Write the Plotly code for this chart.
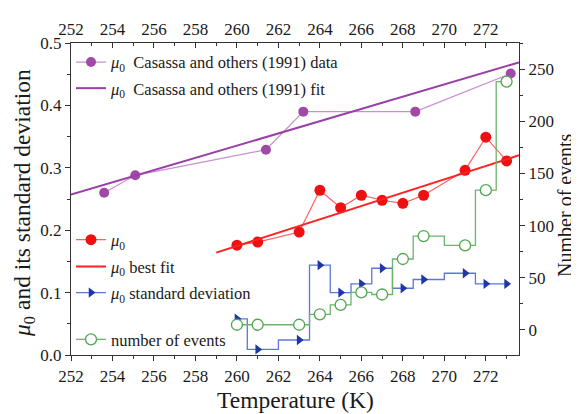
import plotly.graph_objects as go

# Casassa and others (1991) data
cas_T = [253.6, 255.1, 261.4, 263.2, 268.6, 273.2]
cas_mu = [0.260, 0.288, 0.329, 0.390, 0.390, 0.451]
# Casassa fit line endpoints
cas_fit_T = [252.0, 273.6]
cas_fit_mu = [0.257, 0.469]

# mu0 data
T = [260, 261, 263, 264, 265, 266, 267, 268, 269, 271, 272, 273]
mu0 = [0.176, 0.181, 0.197, 0.264, 0.236, 0.256, 0.248, 0.243, 0.256, 0.296, 0.349, 0.311]
# best fit endpoints
fit_T = [259.0, 273.6]
fit_mu = [0.164, 0.320]
# standard deviation
mu_sd = [0.058, 0.009, 0.024, 0.144, 0.100, 0.114, 0.139, 0.107, 0.121, 0.131, 0.114, 0.114]
# number of events
n_events = [5, 5, 5, 15, 24, 36, 34, 68, 90, 81, 134, 238]

x_ticks = list(range(252, 274, 2))

FONT = "Liberation Serif, Times New Roman, serif"
AX = "#333333"
TXT = "#1a1a1a"

# page has an 8px body margin: figure is drawn offset by OFF
OFF = 8
PAGE_W, PAGE_H = 579, 414
W, H = PAGE_W - OFF, PAGE_H - OFF
# desired plot area in page pixels
L, R, Tp, B = 71, 519, 37, 355
def py_paper(py):
    return (B - py) / (B - Tp)
def px_paper(px):
    return (px - L) / (R - L)

fig = go.Figure()

fig.add_trace(go.Scatter(
    x=cas_T, y=cas_mu, mode="lines+markers",
    line=dict(color="#c98fd0", width=1.3),
    marker=dict(color="#a04aa8", size=10, symbol="circle"),
    name="<i>μ</i><sub>0</sub>  Casassa and others (1991) data", legend="legend"))
fig.add_trace(go.Scatter(
    x=cas_fit_T, y=cas_fit_mu, mode="lines",
    line=dict(color="#9a3fa8", width=2),
    name="<i>μ</i><sub>0</sub>  Casassa and others (1991) fit", legend="legend2"))
fig.add_trace(go.Scatter(
    x=T, y=mu0, mode="lines+markers",
    line=dict(color="#ff6060", width=1.2),
    marker=dict(color="#ee1111", size=11, symbol="circle"),
    name="<i>μ</i><sub>0</sub>", legend="legend3"))
fig.add_trace(go.Scatter(
    x=fit_T, y=fit_mu, mode="lines",
    line=dict(color="#ff2222", width=2),
    name="<i>μ</i><sub>0</sub> best fit", legend="legend4"))
fig.add_trace(go.Scatter(
    x=T, y=mu_sd, mode="lines+markers", line_shape="hvh",
    line=dict(color="#5b78d6", width=1.3),
    marker=dict(color="#1f35a8", size=9, symbol="triangle-right"),
    name="<i>μ</i><sub>0</sub> standard deviation", legend="legend5"))
fig.add_trace(go.Scatter(
    x=T, y=n_events, mode="lines+markers", line_shape="hvh", yaxis="y2",
    line=dict(color="#6cb46c", width=1.3),
    marker=dict(color="white", size=11, symbol="circle",
                line=dict(color="#4fa64f", width=1.3)),
    name="number of events", legend="legend6"))
# invisible trace to anchor the top axis
fig.add_trace(go.Scatter(x=[252], y=[0], xaxis="x2", mode="markers",
                         marker=dict(opacity=0), showlegend=False, hoverinfo="skip"))

tick_font = dict(family=FONT, size=17, color=TXT)
common = dict(showline=True, linecolor=AX, linewidth=1.3, showgrid=False,
              zeroline=False, tickcolor=AX, ticklen=5, tickwidth=1.2,
              tickfont=tick_font)

fig.update_layout(
    width=W, height=H,
    margin=dict(l=L - OFF, r=W - (R - OFF), t=Tp - OFF, b=H - (B - OFF), pad=0),
    paper_bgcolor="white", plot_bgcolor="white",
    font=dict(family=FONT, size=16, color=TXT),
    xaxis=dict(range=[252, 273.6], tickvals=x_ticks, ticks="outside",
               minor=dict(dtick=1, tick0=252, ticks="outside", ticklen=3, tickcolor=AX),
               **common),
    xaxis2=dict(range=[252, 273.6], tickvals=x_ticks, ticks="inside", overlaying="x",
                side="top", anchor="y",
                minor=dict(dtick=1, tick0=252, ticks="inside", ticklen=3, tickcolor=AX),
                **common),
    yaxis=dict(range=[0, 0.5], dtick=0.1, tickformat=".1f", ticks="outside",
               minor=dict(dtick=0.05, ticks="outside", ticklen=3, tickcolor=AX),
               **common),
    yaxis2=dict(range=[-24, 275], tickvals=[0, 50, 100, 150, 200, 250], ticks="outside",
                overlaying="y", side="right",
                minor=dict(tickvals=[-25, 25, 75, 125, 175, 225, 275], ticks="outside",
                           ticklen=3, tickcolor=AX),
                **common),
    showlegend=True,
)

# axis titles
fig.add_annotation(text="Temperature (K)", xref="paper", yref="paper",
                   x=px_paper(295), y=py_paper(401), xanchor="center", yanchor="middle",
                   showarrow=False, font=dict(family=FONT, size=23.5, color=TXT))
fig.add_annotation(text="<i>μ</i><sub>0</sub> and its standard deviation", xref="paper", yref="paper",
                   x=px_paper(24), y=py_paper(200), xanchor="center", yanchor="middle",
                   textangle=-90, showarrow=False, font=dict(family=FONT, size=23.5, color=TXT))
fig.add_annotation(text="Number of events", xref="paper", yref="paper",
                   x=px_paper(565), y=py_paper(202), xanchor="center", yanchor="middle",
                   textangle=-90, showarrow=False, font=dict(family=FONT, size=20, color=TXT))

legend_py = {"legend": 56.7, "legend2": 83.3, "legend3": 237.7, "legend4": 265.0,
             "legend5": 291.7, "legend6": 339.3}
for k, py in legend_py.items():
    fig.update_layout({k: dict(x=0.0, xanchor="left", y=py_paper(py), yanchor="middle",
                               bgcolor="rgba(0,0,0,0)", borderwidth=0,
                               font=dict(family=FONT, size=16.5, color=TXT))})

fig.write_html("out.html")
